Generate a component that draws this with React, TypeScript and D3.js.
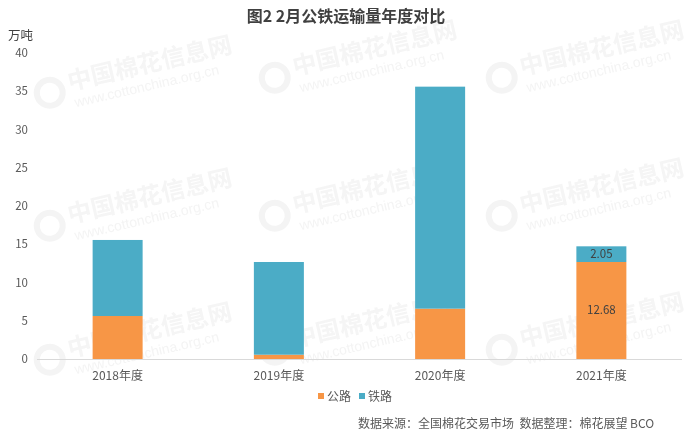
import { useEffect, useRef } from "react";
import * as d3 from "d3";

const years = ["2018年度", "2019年度", "2020年度", "2021年度"];
const road = [5.62, 0.56, 6.58, 12.68];
const rail = [9.94, 12.12, 29.02, 2.05];
const yTicks = [0, 5, 10, 15, 20, 25, 30, 35, 40];
const seriesNames = ["公路", "铁路"];
const labelled = [false, false, false, true];

const COLORS = ["#F79646", "#4BACC6"];
const FONT = "'Microsoft YaHei', 'Noto Sans CJK SC', 'Noto Sans', sans-serif";

export default function App() {
  const ref = useRef<SVGSVGElement>(null);

  useEffect(() => {
    const el = ref.current;
    if (!el) return;
    const W = 692, H = 440;
    const M = { top: 53, right: 10, bottom: 81, left: 37 };
    const svg = d3.select(el).attr("width", W).attr("height", H).attr("viewBox", `0 0 ${W} ${H}`);
    svg.selectAll("*").remove();
    svg.append("rect").attr("width", W).attr("height", H).attr("fill", "#fff");

    // faint watermarks
    const wm = svg.append("g").attr("opacity", 0.45);
    const wmCols = [40, 265, 492];
    const wmRows = [95, 228, 362];
    wmRows.forEach((ry, ri) => wmCols.forEach((cx) => {
      const yy = ri === 0 ? ry - (cx > 200 ? 15 : 0) : ry - (cx > 200 ? 10 : 0);
      const g = wm.append("g").attr("transform", `translate(${cx},${yy}) rotate(-13)`);
      g.append("circle").attr("cx", 10).attr("cy", 0).attr("r", 13).attr("fill", "none").attr("stroke", "#e6e6e6").attr("stroke-width", 6);
      g.append("text").attr("x", 30).attr("y", 2).attr("fill", "#e8e8e8").attr("font-size", 24).attr("font-weight", 700)
        .attr("font-family", FONT).text("中国棉花信息网");
      g.append("text").attr("x", 32).attr("y", 20).attr("fill", "#e6e6e6").attr("font-size", 14)
        .attr("font-family", "Arial, 'Liberation Sans', sans-serif").text("www.cottonchina.org.cn");
    }));

    const x = d3.scaleBand<string>().domain(years).range([M.left, W - M.right]).padding(0);
    const barW = 50;
    const y = d3.scaleLinear().domain([0, 40]).range([H - M.bottom, M.top]);

    // y tick labels
    svg.append("g").selectAll("text").data(yTicks).join("text")
      .attr("x", 28).attr("y", (d) => y(d) + 4).attr("text-anchor", "end")
      .attr("fill", "#595959").attr("font-size", 11.5).attr("font-family", FONT).text((d) => d);

    svg.append("text").attr("x", 8).attr("y", 40).attr("fill", "#404040").attr("font-size", 12.5)
      .attr("font-family", FONT).text("万吨");

    // stacked bars
    const rows = years.map((k, i) => ({ k, road: road[i], rail: rail[i] }));
    const stack = d3.stack<any>().keys(["road", "rail"])(rows);
    stack.forEach((s, si) => {
      svg.append("g").selectAll("rect").data(s).join("rect")
        .attr("x", (d) => (x(d.data.k) ?? 0) + x.bandwidth() / 2 - barW / 2)
        .attr("width", barW)
        .attr("y", (d) => y(d[1]))
        .attr("height", (d) => y(d[0]) - y(d[1]))
        .attr("fill", COLORS[si]);
    });

    // baseline
    svg.append("line").attr("x1", M.left).attr("x2", W - M.right + 0)
      .attr("y1", y(0) + 0.5).attr("y2", y(0) + 0.5).attr("stroke", "#d9d9d9").attr("stroke-width", 1);

    // data labels
    stack.forEach((s) => {
      svg.append("g").selectAll("text").data(s.filter((_d, i) => labelled[i])).join("text")
        .attr("x", (d) => (x(d.data.k) ?? 0) + x.bandwidth() / 2)
        .attr("y", (d) => (y(d[0]) + y(d[1])) / 2 + 4)
        .attr("text-anchor", "middle").attr("fill", "#404040").attr("font-size", 11.5)
        .attr("font-family", FONT).text((d) => (d[1] - d[0]).toFixed(2));
    });

    // category labels
    svg.append("g").selectAll("text").data(years).join("text")
      .attr("x", (d) => (x(d) ?? 0) + x.bandwidth() / 2).attr("y", y(0) + 21)
      .attr("text-anchor", "middle").attr("fill", "#595959").attr("font-size", 12)
      .attr("font-family", FONT).text((d) => d);

    // title
    svg.append("text").attr("x", 346).attr("y", 22).attr("text-anchor", "middle")
      .attr("fill", "#404040").attr("font-size", 16).attr("font-weight", 700)
      .attr("font-family", FONT).text("图2 2月公铁运输量年度对比");

    // legend
    const lx = [318, 359];
    seriesNames.forEach((n, i) => {
      svg.append("rect").attr("x", lx[i]).attr("y", 393).attr("width", 6).attr("height", 6).attr("fill", COLORS[i]);
      svg.append("text").attr("x", lx[i] + 9).attr("y", 401).attr("fill", "#595959").attr("font-size", 12)
        .attr("font-family", FONT).text(n);
    });

    // source
    svg.append("text").attr("x", 358).attr("y", 428).attr("fill", "#595959").attr("font-size", 12)
      .attr("font-family", FONT).style("white-space", "pre")
      .text("数据来源：全国棉花交易市场  数据整理：棉花展望 BCO");
  }, []);

  return <svg ref={ref} style={{ display: "block", position: "absolute", left: 0, top: 0 }} />;
}
